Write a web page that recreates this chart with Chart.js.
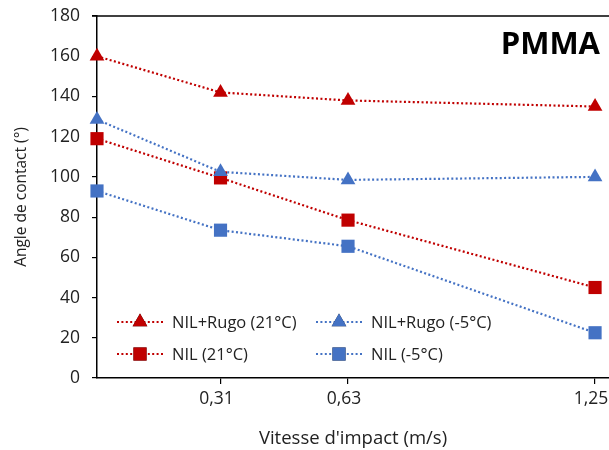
<!DOCTYPE html>
<html>
<head>
<meta charset="utf-8">
<script src="https://cdn.jsdelivr.net/npm/chart.js@4/dist/chart.umd.min.js"></script>
<style>
  body { margin: 0; background: #fff; }
  #wrap { width: 609px; height: 450px; }
</style>
</head>
<body>
<div id="wrap"><canvas id="c"></canvas></div>
<script>
// impact speeds (m/s) and tick labels
const vitesse = [0, 0.31, 0.63, 1.25]
const xTicks = [0.31, 0.63, 1.25]

// contact angles (degrees)
const rugo21 = [160, 142, 138, 135]
const rugoM5 = [128.5, 102.5, 98.5, 100]
const nil21 = [119, 99.5, 78.5, 45]
const nilM5 = [93, 73.5, 65.5, 22.5]

const seriesNames = ['NIL+Rugo (21°C)', 'NIL+Rugo (-5°C)', 'NIL (21°C)', 'NIL (-5°C)']

const RED = '#C00000'
const BLUE = '#4472C4'
const FONT = '"Open Sans", "DejaVu Sans", sans-serif'

function pts(ys) {
    return vitesse.map((x, i) => ({x: x, y: ys[i]}))
}

function ds(label, ys, color, shape) {
    const r = shape === 'triangle' ? 8.5 : 9.3
    return {
        label: label,
        data: pts(ys),
        borderColor: color,
        backgroundColor: color,
        borderWidth: 2.2,
        borderDash: [2, 2.4],
        pointStyle: shape,
        pointRadius: r,
        pointHoverRadius: r,
        pointBorderWidth: 0,
        fill: false,
        clip: false,
        tension: 0
    }
}

// top frame line + title + inside legend
const decor = {
    id: 'decor',
    afterDraw(chart) {
        const ctx = chart.ctx
        const a = chart.chartArea
        ctx.save()
        ctx.strokeStyle = '#000'
        ctx.lineWidth = 1.5
        ctx.beginPath()
        ctx.moveTo(a.left - 5, a.top)
        ctx.lineTo(chart.width, a.top)
        ctx.stroke()

        ctx.fillStyle = '#000'
        ctx.font = 'bold 31px ' + FONT
        ctx.textAlign = 'right'
        ctx.textBaseline = 'middle'
        ctx.fillText('PMMA', 600, 45)

        // legend, 2 x 2
        const cols = [117, 316]
        const rows = [322, 354]
        chart.data.datasets.forEach((d, i) => {
            const x0 = cols[i % 2]
            const y = rows[Math.floor(i / 2)]
            ctx.strokeStyle = d.borderColor
            ctx.lineWidth = d.borderWidth
            ctx.setLineDash(d.borderDash)
            ctx.beginPath()
            ctx.moveTo(x0, y)
            ctx.lineTo(x0 + 46, y)
            ctx.stroke()
            ctx.setLineDash([])
            Chart.helpers.drawPoint(ctx, {pointStyle: d.pointStyle, radius: d.pointRadius, borderWidth: 0},
                x0 + 23, y)
            ctx.fillStyle = d.backgroundColor
            ctx.fill()
            ctx.fillStyle = '#222'
            ctx.font = '16.5px ' + FONT
            ctx.textAlign = 'left'
            ctx.fillText(d.label, x0 + 55, y + 1)
        })
        ctx.restore()
    }
}

new Chart(document.getElementById('c'), {
    type: 'line',
    data: {
        datasets: [
            ds(seriesNames[0], rugo21, RED, 'triangle'),
            ds(seriesNames[1], rugoM5, BLUE, 'triangle'),
            ds(seriesNames[2], nil21, RED, 'rect'),
            ds(seriesNames[3], nilM5, BLUE, 'rect')
        ]
    },
    options: {
        animation: false,
        responsive: true,
        maintainAspectRatio: false,
        layout: {autoPadding: false, padding: {top: 16, right: 0, left: 0, bottom: 0}},
        plugins: {legend: {display: false}, tooltip: {enabled: false}},
        scales: {
            x: {
                type: 'linear',
                min: 0,
                max: 1.285,
                afterBuildTicks: s => { s.ticks = xTicks.map(v => ({value: v})) },
                afterFit: s => { s.height = 72; s.paddingRight = 0; s.paddingLeft = 0 },
                border: {color: '#000', width: 1.5},
                grid: {drawOnChartArea: false, drawTicks: true, tickLength: 6, color: '#000', lineWidth: 1.2},
                ticks: {
                    color: '#222', padding: 5, labelOffset: -4,
                    font: {family: FONT, size: 17.5},
                    callback: v => String(v).replace('.', ','),
                    maxRotation: 0
                },
                title: {
                    display: true, text: "Vitesse d'impact (m/s)", color: '#222',
                    font: {family: FONT, size: 18.5}, padding: {top: 6, bottom: 0}
                }
            },
            y: {
                min: 0,
                max: 180,
                afterFit: s => { s.width = 97; s.paddingTop = 0; s.paddingBottom = 0 },
                border: {color: '#000', width: 1.5},
                grid: {drawOnChartArea: false, drawTicks: true, tickLength: 5, color: '#000', lineWidth: 1.2},
                ticks: {
                    stepSize: 20, color: '#222', padding: 12,
                    font: {family: FONT, size: 17.5}
                },
                title: {
                    display: true, text: 'Angle de contact (°)', color: '#222',
                    font: {family: FONT, size: 15.5}, padding: {top: 12, bottom: 6}
                }
            }
        }
    },
    plugins: [decor]
})
</script>
</body>
</html>
